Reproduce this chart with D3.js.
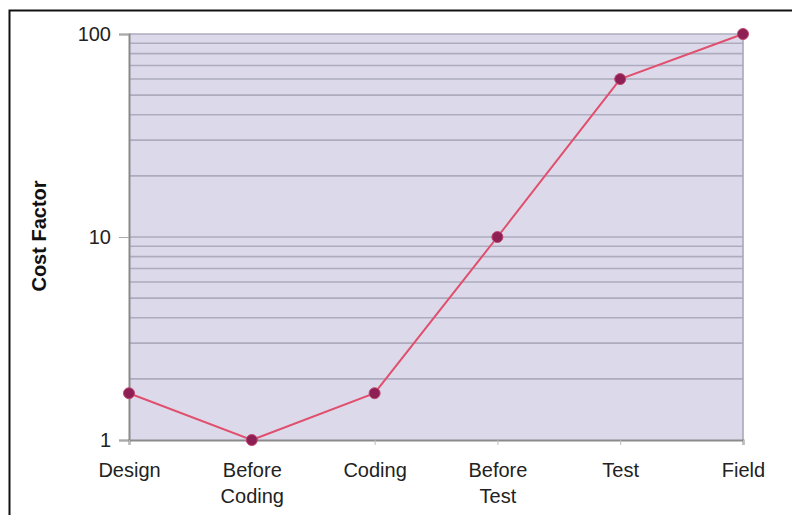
<!DOCTYPE html>
<html>
<head>
<meta charset="utf-8">
<script src="https://cdn.jsdelivr.net/npm/d3@7"></script>
<style>
  body { margin: 0; background: #fff; }
  svg { display: block; font-family: "Liberation Sans", Arial, sans-serif; }
</style>
</head>
<body>
<div id="wrapper"></div>
<script>
const phases = ["Design", "Before\nCoding", "Coding", "Before\nTest", "Test", "Field"];
const costFactor = [1.7, 1, 1.7, 10, 60, 100];
const yTicks = [1, 10, 100];

const dimension = {
    width: 792,
    height: 515,
    margin: { top: 34, left: 129, bottom: 75, right: 49 }
};
dimension.boundedWidth = dimension.width - dimension.margin.left - dimension.margin.right;
dimension.boundedHeight = dimension.height - dimension.margin.top - dimension.margin.bottom;

const svg = d3.select("#wrapper").append("svg")
    .attr("width", dimension.width)
    .attr("height", dimension.height);

// outer frame (only left + top visible in the crop)
svg.append("path")
    .attr("d", "M9.5,520 V10.5 H800")
    .attr("fill", "none")
    .attr("stroke", "#111")
    .attr("stroke-width", 2);

const bounds = svg.append("g")
    .attr("transform", `translate(${dimension.margin.left},${dimension.margin.top})`);

const xScaler = d3.scalePoint()
    .domain(phases)
    .range([0, dimension.boundedWidth]);

const yScaler = d3.scaleLog()
    .domain([1, 100])
    .range([dimension.boundedHeight, 0]);

bounds.append("rect")
    .attr("width", dimension.boundedWidth)
    .attr("height", dimension.boundedHeight)
    .attr("fill", "#dcdaea");

// gridlines at every log minor step
const gridVals = yScaler.ticks().filter(v => v > 1);
bounds.append("g").selectAll("line")
    .data(gridVals)
    .join("line")
    .attr("x1", 0)
    .attr("x2", dimension.boundedWidth)
    .attr("y1", d => yScaler(d))
    .attr("y2", d => yScaler(d))
    .attr("stroke", "#adabbd")
    .attr("stroke-width", 1.6);

// right edge of plot
bounds.append("line")
    .attr("x1", dimension.boundedWidth).attr("x2", dimension.boundedWidth)
    .attr("y1", 0).attr("y2", dimension.boundedHeight)
    .attr("stroke", "#a9a7b9").attr("stroke-width", 1.6);

const yAxisGen = d3.axisLeft(yScaler)
    .tickValues(yTicks)
    .tickFormat(d3.format("d"))
    .tickSize(10)
    .tickPadding(8);
const yAxis = bounds.append("g").call(yAxisGen);
yAxis.select(".domain").attr("stroke", "#8a8a8a").attr("stroke-width", 2);
yAxis.selectAll(".tick line").attr("stroke", "#aaa");
yAxis.selectAll("text")
    .attr("font-size", "20px")
    .attr("fill", "#222")
    .attr("font-family", "Liberation Sans, Arial, sans-serif");

const xAxisGen = d3.axisBottom(xScaler)
    .tickSize(5)
    .tickFormat("");
const xAxis = bounds.append("g")
    .attr("transform", `translate(0,${dimension.boundedHeight})`)
    .call(xAxisGen);
xAxis.select(".domain").attr("stroke", "#8a8a8a").attr("stroke-width", 2);
xAxis.selectAll(".tick line").attr("stroke", "#bbb");

xAxis.selectAll(".tick").append("text")
    .attr("fill", "#222")
    .attr("font-size", "20px")
    .attr("text-anchor", "middle")
    .attr("font-family", "Liberation Sans, Arial, sans-serif")
    .selectAll("tspan")
    .data(d => d.split("\n"))
    .join("tspan")
    .attr("x", 0)
    .attr("y", (d, i) => 37 + i * 26)
    .text(d => d);

// y label
svg.append("text")
    .attr("transform", `translate(46,${dimension.margin.top + 202}) rotate(-90)`)
    .attr("text-anchor", "middle")
    .attr("font-size", "20px")
    .attr("font-weight", "bold")
    .attr("fill", "#111")
    .text("Cost Factor");

const lineGen = d3.line()
    .x((d, i) => xScaler(phases[i]))
    .y(d => yScaler(d));

bounds.append("path")
    .datum(costFactor)
    .attr("d", lineGen)
    .attr("fill", "none")
    .attr("stroke", "#e0506e")
    .attr("stroke-width", 2);

bounds.append("g").selectAll("circle")
    .data(costFactor)
    .join("circle")
    .attr("cx", (d, i) => xScaler(phases[i]))
    .attr("cy", d => yScaler(d))
    .attr("r", 5.5)
    .attr("fill", "#8e1f55")
    .attr("stroke", "#c0456f")
    .attr("stroke-width", 1);
</script>
</body>
</html>
